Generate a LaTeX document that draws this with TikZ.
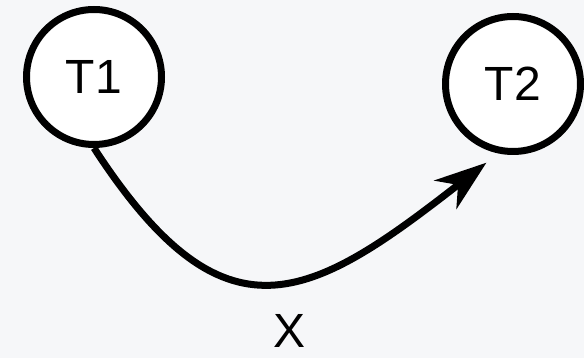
\documentclass[tikz,border=0pt]{standalone}
\usepackage{fontspec}
\setmainfont{Liberation Sans}
\usetikzlibrary{arrows.meta,positioning}
\definecolor{bgGrey}{RGB}{246,247,249}

\begin{document}
\begin{tikzpicture}[x=1pt,y=1pt,
  tnode/.style={draw=black,circle,line width=7pt,fill=white,minimum size=135pt,inner sep=0pt,font=\fontsize{48}{56}\selectfont},
  edgelabel/.style={font=\fontsize{48}{56}\selectfont,inner sep=0pt}]
\fill[bgGrey] (0,0) rectangle (584,-358);
\node[tnode] (t1) at (94,-77) {T1};
\node[tnode] (t2) at (513,-84) {T2};
\node[edgelabel] (x) at (290,-331) {X};
\draw[-{Stealth[length=52pt,width=36pt,inset=16pt]},line width=7pt,shorten >=15pt]
  (t1.south) .. controls +(-57:240) and +(218:240) .. (t2.258);
\end{tikzpicture}
\end{document}
